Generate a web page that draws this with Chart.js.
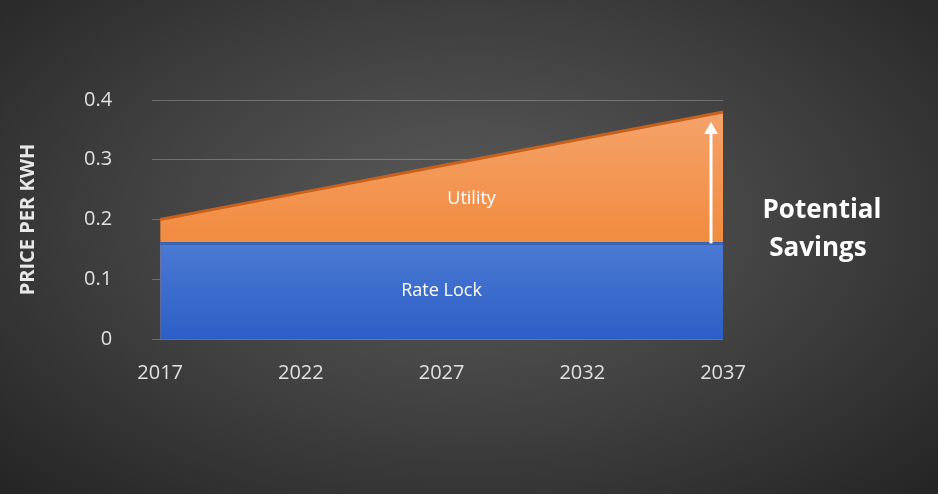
<!DOCTYPE html>
<html>
<head>
<meta charset="utf-8">
<script src="https://cdn.jsdelivr.net/npm/chart.js@4"></script>
<style>
  html, body { margin: 0; padding: 0; }
  body {
    width: 938px; height: 494px; overflow: hidden;
    background: radial-gradient(ellipse at 50% 45%, #5b5b5b 0%, #3e3e3e 55%, #242424 100%);
  }
  #wrap { position: relative; width: 938px; height: 494px; }
</style>
</head>
<body>
<div id="wrap"><canvas id="chart" width="938" height="494"></canvas></div>
<script>
const years = ['2017', '2022', '2027', '2032', '2037'];
const utilityPrice = [0.20, 0.245, 0.29, 0.335, 0.38];
const rateLockPrice = [0.16, 0.16, 0.16, 0.16, 0.16];
const yTicks = [0, 0.1, 0.2, 0.3, 0.4];

const ctx = document.getElementById('chart').getContext('2d');

function vGradient(chart, top, bottom) {
    const area = chart.chartArea;
    if (!area) return top;
    const g = chart.ctx.createLinearGradient(0, area.top, 0, area.bottom);
    g.addColorStop(0, top);
    g.addColorStop(1, bottom);
    return g;
}

// labels, savings arrow and caption
const annotations = {
    id: 'annotations',
    afterDatasetsDraw(chart) {
        const c = chart.ctx;
        const x = chart.scales.x, y = chart.scales.y;
        c.save();
        c.fillStyle = '#ffffff';
        c.textAlign = 'center';
        c.textBaseline = 'middle';
        c.font = '18px "Open Sans", sans-serif';
        c.fillText('Utility', x.getPixelForValue(2) + 30, y.getPixelForValue(0.235));
        c.fillText('Rate Lock', x.getPixelForValue(2), y.getPixelForValue(0.08));

        // arrow
        const ax = x.getPixelForValue(4) - 12;
        const y0 = y.getPixelForValue(rateLockPrice[4]);
        const y1 = y.getPixelForValue(utilityPrice[4]) + 10;
        c.strokeStyle = '#ffffff';
        c.lineWidth = 3;
        c.beginPath();
        c.moveTo(ax, y0);
        c.lineTo(ax, y1 + 8);
        c.stroke();
        c.beginPath();
        c.moveTo(ax, y1);
        c.lineTo(ax - 7, y1 + 12);
        c.lineTo(ax + 7, y1 + 12);
        c.closePath();
        c.fill();

        c.font = 'bold 26px "Open Sans", sans-serif';
        c.fillText('Potential', 822, 211);
        c.fillText('Savings', 818, 249);
        c.restore();
    }
};

new Chart(ctx, {
    type: 'line',
    data: {
        labels: years,
        datasets: [
            {
                label: 'Rate Lock',
                data: rateLockPrice,
                order: 0,
                fill: 'origin',
                borderColor: '#3b63b3',
                borderWidth: 3,
                pointRadius: 0,
                tension: 0,
                backgroundColor: (c) => vGradient(c.chart, '#7aa2e6', '#2c5fc6')
            },
            {
                label: 'Utility',
                data: utilityPrice,
                order: 1,
                fill: 'origin',
                borderColor: '#c8611c',
                borderWidth: 3,
                pointRadius: 0,
                tension: 0,
                backgroundColor: (c) => vGradient(c.chart, '#f5a56f', '#ef7a1e')
            }
        ]
    },
    options: {
        responsive: false,
        animation: false,
        layout: { padding: { left: 12, right: 215, top: 100, bottom: 95 } },
        plugins: {
            legend: { display: false },
            tooltip: { enabled: false }
        },
        scales: {
            x: {
                offset: false,
                grid: { display: false },
                border: { display: false },
                ticks: { color: '#e0e0e0', font: { size: 20, family: '"Open Sans", sans-serif' }, padding: 14 }
            },
            y: {
                min: 0,
                max: 0.4,
                afterBuildTicks: (axis) => { axis.ticks = yTicks.map(v => ({ value: v })); },
                grid: { color: 'rgba(200,200,200,0.35)' },
                border: { display: false },
                ticks: { color: '#e0e0e0', font: { size: 20, family: '"Open Sans", sans-serif' }, padding: 40 },
                title: {
                    display: true,
                    text: 'PRICE PER KWH',
                    color: '#e8e8e8',
                    font: { size: 20, weight: 'bold', family: '"Open Sans", sans-serif' }
                }
            }
        }
    },
    plugins: [annotations]
});
</script>
</body>
</html>
